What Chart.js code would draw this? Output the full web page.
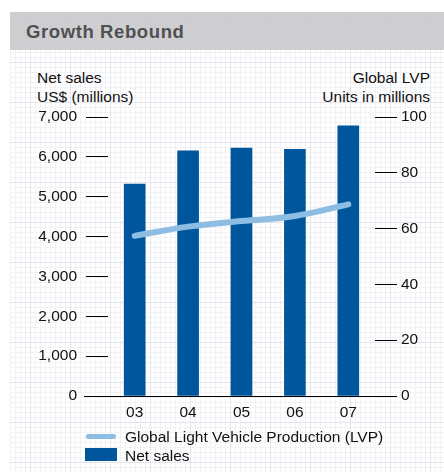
<!DOCTYPE html>
<html lang="en">
<head>
    <meta charset="UTF-8">
    <title>Growth Rebound</title>
    <script src="https://cdn.jsdelivr.net/npm/chart.js"></script>
    <style>
        html, body { margin: 0; padding: 0; background: #fff; }
        body { width: 444px; height: 472px; position: relative; overflow: hidden;
               font-family: "Liberation Sans", Arial, Helvetica, sans-serif; color: #111; }
        /* graph paper */
        .paper { position: absolute; left: 10px; top: 12px; right: 0; bottom: 0;
            background-color: #fff;
            background-image:
                linear-gradient(to right, #e2e5ec 1px, transparent 1px),
                linear-gradient(to bottom, #e2e5ec 1px, transparent 1px),
                linear-gradient(to right, #f1f2f6 1px, transparent 1px),
                linear-gradient(to bottom, #f1f2f6 1px, transparent 1px);
            background-size: 40px 40px, 40px 40px, 5px 5px, 5px 5px;
            background-position: 20px 0, 0 10px, 0 0, 0 0; }
        .titlebar { position: absolute; left: 10px; top: 12px; right: 0; height: 38px;
            background: rgba(196,196,200,0.82); }
        .titlebar span { position: absolute; left: 16px; top: 9px; font-size: 18.5px; font-weight: bold;
            color: #505050; letter-spacing: 0.6px; }
        .axt { position: absolute; font-size: 15.5px; line-height: 19px; }
        #chart { position: absolute; left: 0; top: 0; }
        .legend { position: absolute; left: 85px; top: 427px; font-size: 15.5px; }
        .legend div { height: 19px; position: relative; padding-left: 40px; line-height: 19px; }
        .legend .ln { position: absolute; left: 1px; top: 7px; width: 30px; height: 5px; border-radius: 3px; background: #8dbde2; }
        .legend .bx { position: absolute; left: 0; top: 2px; width: 32px; height: 13px; background: #00569d; }
    </style>
</head>
<body>
    <div class="paper"></div>
    <div class="titlebar"><span>Growth Rebound</span></div>
    <div class="axt" style="left:37px; top:68px;">Net sales<br>US$ (millions)</div>
    <div class="axt" style="right:14px; top:68px; text-align:right;">Global LVP<br>Units in millions</div>
    <canvas id="chart" width="444" height="472"></canvas>
    <div class="legend">
        <div><span class="ln"></span>Global Light Vehicle Production (LVP)</div>
        <div><span class="bx"></span>Net sales</div>
    </div>

    <script>
        // data
        const years = ['03', '04', '05', '06', '07'];
        const netSales = [5320, 6150, 6220, 6190, 6780];      // US$ millions
        const lvp = [57.4, 60.7, 62.7, 64.5, 68.7];           // units in millions
        const salesTicks = [0, 1000, 2000, 3000, 4000, 5000, 6000, 7000];
        const lvpTicks = [0, 20, 40, 60, 80, 100];

        const tickFont = { family: '"Liberation Sans", Arial, sans-serif', size: 15.5 };

        // baseline running under both tick columns
        const baseline = {
            id: 'baseline',
            afterDatasetsDraw(chart) {
                const ctx = chart.ctx;
                const y = Math.round(chart.scales.ySales.getPixelForValue(0)) + 0.5;
                ctx.save();
                ctx.strokeStyle = '#000';
                ctx.lineWidth = 1;
                ctx.beginPath();
                ctx.moveTo(chart.chartArea.left - 24, y);
                ctx.lineTo(chart.chartArea.right + 21, y);
                ctx.stroke();
                ctx.restore();
            }
        };

        new Chart(document.getElementById('chart'), {
            type: 'bar',
            data: {
                labels: years,
                datasets: [{
                    type: 'line',
                    label: 'Global Light Vehicle Production (LVP)',
                    data: lvp,
                    yAxisID: 'yLvp',
                    borderColor: '#8dbde2',
                    borderWidth: 6,
                    borderCapStyle: 'round',
                    tension: 0.4,
                    pointRadius: 0,
                    order: 0
                }, {
                    label: 'Net sales',
                    data: netSales,
                    yAxisID: 'ySales',
                    backgroundColor: '#00569d',
                    barThickness: 21,
                    order: 1
                }]
            },
            options: {
                responsive: false,
                animation: false,
                layout: { padding: { top: 117, bottom: 46, left: 0, right: 0 } },
                plugins: { legend: { display: false }, tooltip: { enabled: false } },
                scales: {
                    x: {
                        offset: true,
                        grid: { display: false, drawTicks: false },
                        border: { display: false },
                        ticks: { color: '#111', font: tickFont, padding: 7 },
                        afterFit(s) { s.height = 30; }
                    },
                    ySales: {
                        position: 'left',
                        min: 0, max: 7000,
                        afterBuildTicks(s) { s.ticks = salesTicks.map(v => ({ value: v })); },
                        grid: { drawOnChartArea: false, tickLength: 22, color: '#000', tickColor: '#000' },
                        border: { display: false },
                        ticks: { color: '#111', font: tickFont, padding: 9,
                                 callback: v => v.toLocaleString('en-US') },
                        afterFit(s) { s.width = 108; }
                    },
                    yLvp: {
                        position: 'right',
                        min: 0, max: 100,
                        afterBuildTicks(s) { s.ticks = lvpTicks.map(v => ({ value: v })); },
                        grid: { drawOnChartArea: false, tickLength: 22, color: '#000', tickColor: '#000' },
                        border: { display: false },
                        ticks: { color: '#111', font: tickFont, padding: 4 },
                        afterFit(s) { s.width = 69; }
                    }
                }
            },
            plugins: [baseline]
        });
    </script>
</body>
</html>
